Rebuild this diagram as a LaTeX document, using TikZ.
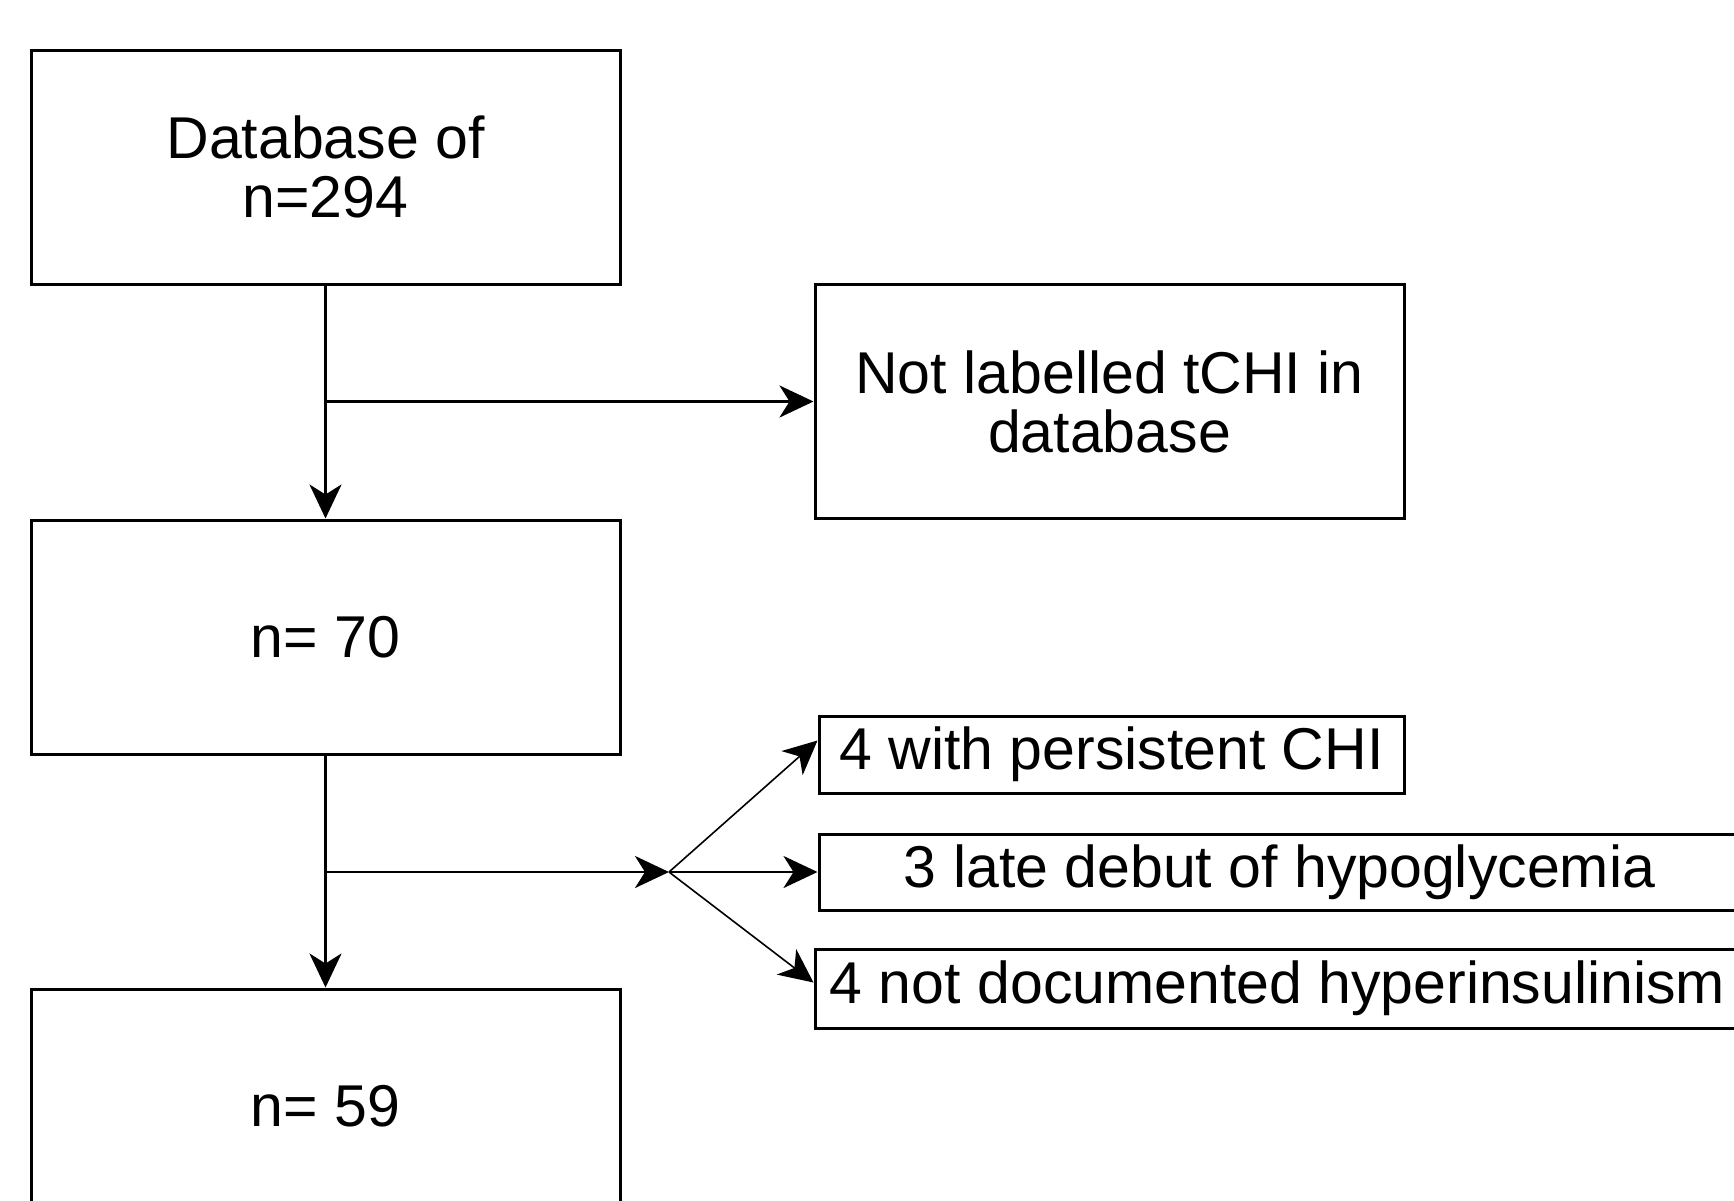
\documentclass[tikz,border=0pt]{standalone}
\usepackage{fontspec}
\setmainfont{Liberation Sans}
\usetikzlibrary{arrows.meta,calc}
\begin{document}
\begin{tikzpicture}[x=0.5pt,y=-0.5pt,
  box/.style={draw=black,line width=1.5pt,rectangle,inner sep=0pt,align=center,
    font=\fontsize{29.5}{29.5}\selectfont},
  bigbox/.style={box,minimum width=294.5pt,minimum height=117pt},
  conn/.style={line width=1.4pt,-{Stealth[length=17pt,width=16pt,inset=5pt]}},
  thin/.style={line width=0.8pt,-{Stealth[length=17pt,width=16pt,inset=5pt]}}]
\useasboundingbox (0,0) rectangle (1734,1200);
\node[bigbox] (b1) at (325.5,167) {Database of\\n=294};
\node[bigbox] (b2) at (1109.5,401.5) {Not labelled tCHI in\\database};
\node[bigbox] (b3) at (325.5,637) {n= 70};
\node[bigbox] (b4) at (325.5,1106) {n= 59};
\node[box,minimum width=292.5pt,minimum height=38.5pt] (ba) at (1111.5,754.5) {4 with persistent CHI};
\node[box,minimum width=460.5pt,minimum height=38pt] (bb) at (1279.5,872) {3 late debut of hypoglycemia};
\node[box,minimum width=462.5pt,minimum height=39.5pt] (bc) at (1277.5,988.5) {4 not documented hyperinsulinism};
\coordinate (j1) at (325.5,401.5);
\coordinate (j2) at (325.5,872);
\coordinate (sp) at (669,872);
\draw[conn] (b1.south) -- (b3.north);
\draw[conn] (j1) -- (b2.west);
\draw[conn] (b3.south) -- (b4.north);
\draw[conn] (j2) -- (sp);
\draw[thin] (sp) -- ([yshift=7pt]ba.west);
\draw[conn] (sp) -- (bb.west);
\draw[thin] (sp) -- ([yshift=3pt]bc.west);
\end{tikzpicture}
\end{document}
